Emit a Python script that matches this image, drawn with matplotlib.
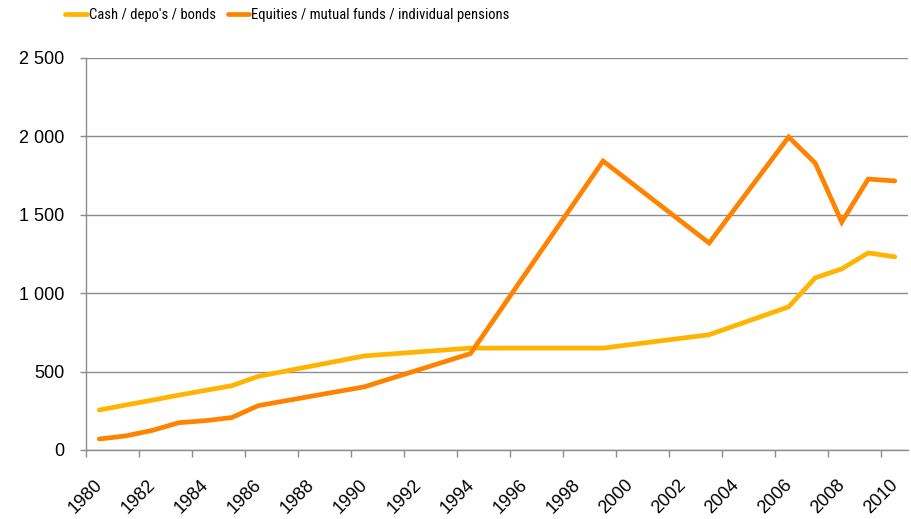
import numpy as np
import matplotlib
matplotlib.use('Agg')
import matplotlib.pyplot as plt
from matplotlib.font_manager import FontProperties
from matplotlib.ticker import FuncFormatter, MultipleLocator

# Annual observations (mid-year points), values in billions
years = [1980, 1981, 1982, 1983, 1984, 1985, 1986, 1990, 1994,
         1999, 2003, 2006, 2007, 2008, 2009, 2010]
cash_depos_bonds = [255, 287, 318, 350, 380, 410, 470, 600, 650,
                    650, 735, 913, 1098, 1155, 1257, 1232]
equities_funds_pensions = [70, 90, 125, 174, 187, 207, 283, 403, 615,
                           1843, 1320, 1996, 1830, 1454, 1728, 1716]
series_names = ["Cash / depo's / bonds",
                "Equities / mutual funds / individual pensions"]
tick_years = list(range(1980, 2011, 2))

YELLOW = '#FFB400'
ORANGE = '#FF8200'
GRID = '#8C8C8C'

plt.rcParams['font.family'] = ['Liberation Sans', 'DejaVu Sans']

fig = plt.figure(figsize=(9.12, 5.19), dpi=100)
ax = fig.add_axes([86 / 912, 1 - 450 / 519, 822 / 912, 392 / 519])

x = np.array(years) + 0.5
l1, = ax.plot(x, cash_depos_bonds, color=YELLOW, lw=3.4,
              solid_capstyle='round', solid_joinstyle='miter', zorder=3)
l2, = ax.plot(x, equities_funds_pensions, color=ORANGE, lw=3.4,
              solid_capstyle='round', solid_joinstyle='miter', zorder=3)

ax.set_xlim(1980, 2011)
ax.set_ylim(0, 2500)
ax.yaxis.set_major_locator(MultipleLocator(500))
ax.yaxis.set_major_formatter(
    FuncFormatter(lambda v, _: f"{v:,.0f}".replace(",", " ")))
ax.set_xticks(tick_years)
ax.set_xticklabels([str(y) for y in tick_years], rotation=45, ha='center')

ax.grid(axis='y', color=GRID, lw=1.0, zorder=0)
for side in ('top', 'right'):
    ax.spines[side].set_visible(False)
for side in ('left', 'bottom'):
    ax.spines[side].set_color(GRID)
    ax.spines[side].set_linewidth(1.0)

ax.tick_params(axis='y', length=4.5, width=1.0, color=GRID, pad=11,
               labelsize=13, labelcolor='black')
ax.tick_params(axis='x', length=5, width=1.0, color=GRID, pad=14,
               labelsize=13, labelcolor='black')

# narrow face for the legend if one is installed
legend_font = FontProperties(
    family=['Roboto Condensed', 'Liberation Sans Narrow', 'Liberation Sans'],
    stretch='condensed', size=10.5)
leg = fig.legend([l1, l2], series_names, loc='center left',
                 bbox_to_anchor=(65 / 912, 1 - 15 / 519), ncol=2,
                 frameon=False, borderpad=0, borderaxespad=0,
                 handlelength=1.5, handletextpad=0.14, columnspacing=0.8,
                 prop=legend_font)

fig.savefig('out.png', dpi=100)
